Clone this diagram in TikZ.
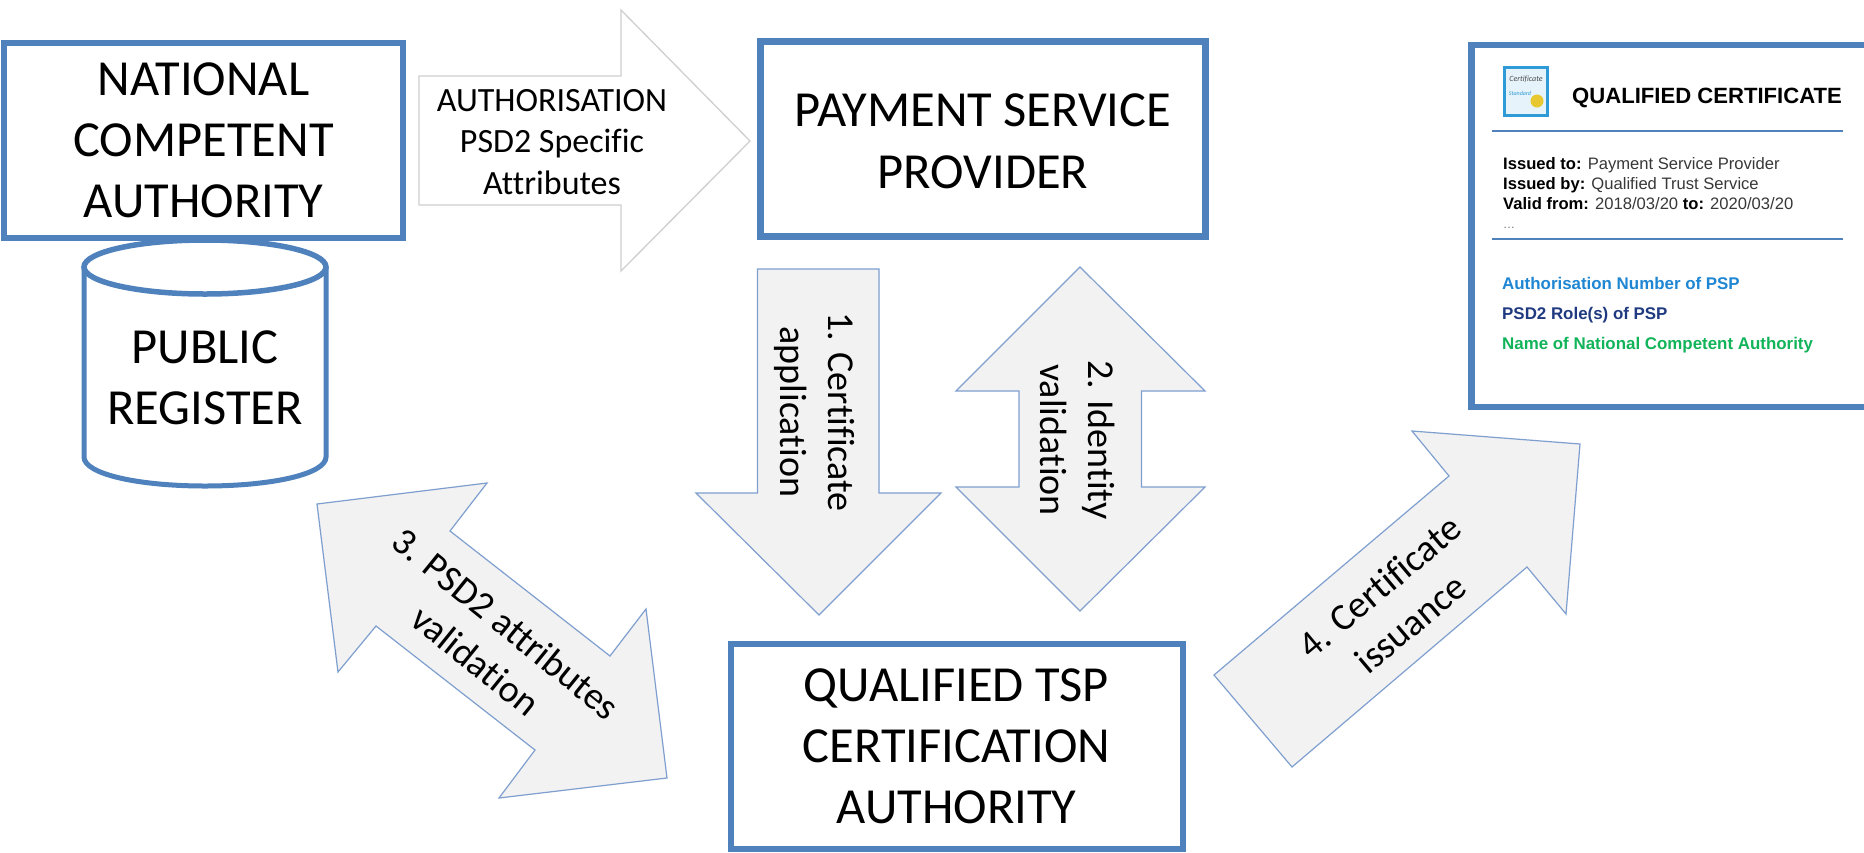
\documentclass[tikz,border=0pt]{standalone}
\usepackage{fontspec}
\setmainfont[Ligatures=NoCommon]{Carlito}
\newfontfamily\arial{Liberation Sans}
\definecolor{boxblue}{HTML}{4F81BD}
\definecolor{arrowline}{HTML}{7F9FCF}
\definecolor{arrowfill}{HTML}{F2F2F2}
\definecolor{greyline}{HTML}{CFCFCF}
\definecolor{cblue}{HTML}{1E86D2}
\definecolor{cnavy}{HTML}{1F3A80}
\definecolor{cgreen}{HTML}{12B45A}
\definecolor{igold}{HTML}{E8C830}
\definecolor{iblue}{HTML}{2E9AD6}
\tikzset{
  x=1pt,y=-1pt,
  entity/.style={draw=boxblue,line width=6.5pt,fill=white,align=center,inner sep=0pt,
    font=\fontsize{50.5}{61}\selectfont},
  flow/.style={draw=arrowline,line width=1.2pt,fill=arrowfill,line join=miter},
  flowtext/.style={align=center,inner sep=0pt,font=\fontsize{38}{48}\selectfont},
  plain/.style={inner sep=0pt,align=center,font=\fontsize{50.5}{61}\selectfont},
  certline/.style={anchor=base west,inner sep=0pt,text=black!78,font=\arial\fontsize{16.6}{20}\selectfont},
  certtag/.style={anchor=base west,inner sep=0pt,font=\arial\bfseries\fontsize{16.9}{20}\selectfont},
}
\newcommand{\lbl}[1]{\textcolor{black}{\textbf{#1}}}
\begin{document}
\begin{tikzpicture}
\useasboundingbox (0,0) rectangle (1864,852);
\clip (0,0) rectangle (1864,852);
\fill[white] (0,0) rectangle (1864,852);

% cylinder
\draw[draw=boxblue,line width=5pt,fill=white]
  (84,267) -- (84,457) .. controls (84,474) and (138,486) .. (205,486) .. controls (272,486) and (326,474) .. (326,457) -- (326,267);
\draw[draw=boxblue,line width=5.5pt,fill=white]
  (205,267) ellipse [x radius=121,y radius=27];
\node[plain] (register) at (205,378) {PUBLIC\\REGISTER};

% entities
\node[entity,minimum width=399pt,minimum height=195pt] (nca) at (203.5,140.5)
  {NATIONAL\\COMPETENT\\AUTHORITY};
\node[entity,minimum width=445pt,minimum height=195pt] (psp) at (983,139) {};
\node[plain] (psplabel) at (983,141.5) {PAYMENT SERVICE\\[1pt]PROVIDER};
\node[entity,minimum width=452pt,minimum height=205pt,line width=6pt] (tsp) at (956.5,746)
  {QUALIFIED TSP\\CERTIFICATION\\AUTHORITY};

% authorisation arrow
\draw[draw=greyline,line width=1.3pt,fill=white]
  (419,76) -- (621,76) -- (621,10) -- (750,141) -- (621,271) -- (621,205) -- (419,205) -- cycle;
\node[inner sep=0pt,align=center,font=\fontsize{34}{41.5}\selectfont] (authlabel) at (552,142)
  {AUTHORISATION\\PSD2 Specific\\Attributes};

% arrow 1
\draw[flow] (757.5,269) -- (879,269) -- (879,493) -- (941,493) -- (819,615) -- (696,493) -- (757.5,493) -- cycle;
\node[flowtext,rotate=-90] (l1) at (815,412) {1. Certificate\\application};

% arrow 2
\draw[flow] (1080,267) -- (1205,391) -- (1141.5,391) -- (1141.5,487) -- (1205,487) -- (1080,611) -- (956,487) -- (1019,487) -- (1019,391) -- (956,391) -- cycle;
\node[flowtext,rotate=-90] (l2) at (1078,440) {2. Identity\\validation};

% arrow 3
\draw[flow] (317,504) -- (487,483) -- (450,531) -- (610,656) -- (646,609) -- (667,778) -- (499,798) -- (535,750) -- (376,626) -- (338,672) -- cycle;
\node[flowtext,rotate=-39] (l3) at (491,642) {3. PSD2 attributes\\validation};

% arrow 4
\draw[flow] (1580,444) -- (1412,431) -- (1449,476) -- (1214,675) -- (1292,767) -- (1527,567) -- (1566,614) -- cycle;
\node[flowtext,rotate=40] (l4) at (1395,605) {4. Certificate\\issuance};

% certificate
\node[draw=boxblue,line width=6.5pt,fill=white,outer sep=0pt,minimum width=420pt,minimum height=362pt,anchor=north west,inner sep=0pt] (cert) at (1471.5,45) {};
% icon
\draw[draw=iblue,line width=3pt,fill=iblue!12] (1504,67) rectangle (1547,115);
\fill[igold] (1537,101) circle (6.5);
\node[inner sep=0pt,font=\itshape\fontsize{8}{8}\selectfont,text=black!70] (iconA) at (1526,79) {Certificate};
\node[inner sep=0pt,font=\itshape\fontsize{6}{6}\selectfont,text=iblue] (iconB) at (1520,93) {Standard};
\node[anchor=base west,inner sep=0pt,font=\arial\bfseries\fontsize{22.1}{24}\selectfont] (ctitle) at (1572,103) {QUALIFIED CERTIFICATE};
\coordinate (r1a) at (1492,131); \coordinate (r1b) at (1843,131);
\coordinate (r2a) at (1492,239); \coordinate (r2b) at (1843,239);
\draw[boxblue,line width=1.2pt] (r1a) -- (r1b);
\draw[boxblue,line width=1.5pt] (r2a) -- (r2b);
\node[certline] (c1) at (1503,169) {\lbl{Issued to:} Payment Service Provider};
\node[certline] (c2) at (1503,189) {\lbl{Issued by:} Qualified Trust Service};
\node[certline] (c3) at (1503,209) {\lbl{Valid from:} 2018/03/20 \lbl{to:} 2020/03/20};
\node[certline,text=black!55] (c4) at (1503,228) {\fontsize{12}{12}\selectfont\dots};
\node[certtag,text=cblue] (t1) at (1502,289) {Authorisation Number of PSP};
\node[certtag,text=cnavy] (t2) at (1502,319) {PSD2 Role(s) of PSP};
\node[certtag,text=cgreen] (t3) at (1502,349) {Name of National Competent Authority};
\end{tikzpicture}
\end{document}
